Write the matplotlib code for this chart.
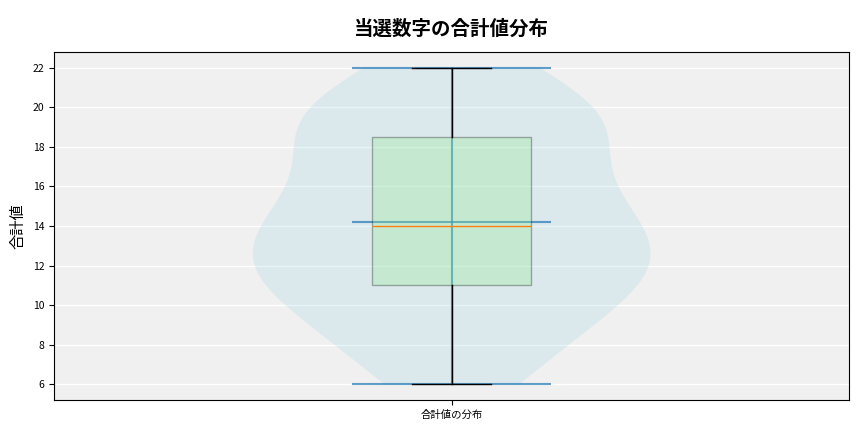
import numpy as np
import matplotlib.pyplot as plt

plt.rcParams['font.family'] = ['Noto Sans CJK JP', 'DejaVu Sans']

# sums of the winning numbers (value -> how many draws)
sum_values = [6, 7, 8, 9, 10, 11, 12, 13, 14, 15, 16, 17, 18, 19, 20, 21, 22]
sum_counts = [2, 1, 2, 2, 3, 2, 6, 2, 3, 4, 2, 1, 2, 5, 2, 2, 2]
data = np.repeat(sum_values, sum_counts)

title = '当選数字の合計値分布'
ylabel = '合計値'
xlabel_tick = '合計値の分布'

fig, ax = plt.subplots(figsize=(8.64, 4.32), dpi=100)
fig.subplots_adjust(left=0.0625, right=0.983, top=0.88, bottom=0.074)
ax.set_facecolor('#f0f0f0')
ax.grid(True, axis='y', color='white', linewidth=1)
ax.set_axisbelow(True)

vp = ax.violinplot(data, positions=[1], widths=0.5, showmeans=True, showextrema=True)
for body in vp['bodies']:
    body.set_facecolor('lightblue')
    body.set_edgecolor('none')
    body.set_alpha(0.3)
for key in ['cmeans', 'cmins', 'cmaxes', 'cbars']:
    vp[key].set_color('#1f77b4')
    vp[key].set_alpha(0.7)

bp = ax.boxplot(data, positions=[1], widths=0.2, patch_artist=True)
for box in bp['boxes']:
    box.set_facecolor('lightgreen')
    box.set_edgecolor('black')
    box.set_alpha(0.3)
for line in bp['whiskers'] + bp['caps']:
    line.set_color('black')

ax.set_xticks([1])
ax.set_xticklabels([xlabel_tick])
ax.set_xlim(0.5, 1.5)
ax.tick_params(labelsize=7.5)
ax.set_ylabel(ylabel, fontsize=11)
ax.set_title(title, fontsize=14, fontweight='bold', pad=12)

fig.savefig('out.png', dpi=100)
